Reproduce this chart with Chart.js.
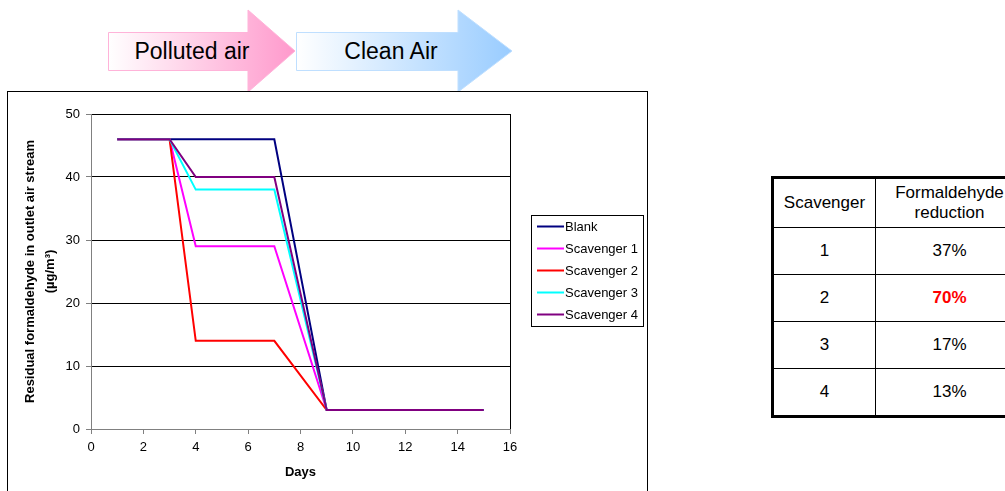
<!DOCTYPE html>
<html><head><meta charset="utf-8">
<script src="https://cdn.jsdelivr.net/npm/chart.js@4.4.1/dist/chart.umd.min.js"></script>
<style>
html,body{margin:0;padding:0;background:#fff;width:1005px;height:491px;overflow:hidden;font-family:"Liberation Sans",Arial,sans-serif;}
#arrows{position:absolute;left:0;top:0;z-index:0}
#box{position:absolute;left:7px;top:91px;width:639px;height:420px;border:1px solid #000;background:#fff;z-index:1}
#c{position:absolute;left:0;top:0}
#tbl{position:absolute;left:771px;top:176px;border-collapse:collapse;border:3px solid #000;font-size:17px;color:#000;z-index:2;table-layout:fixed;width:252px}
#tbl td{border:1px solid #000;text-align:center;padding:0;height:46px}
#tbl tr:first-child td{height:48px;line-height:20px}
</style></head>
<body>
<svg id="arrows" width="560" height="100">
  <defs>
    <linearGradient id="gp" x1="108" y1="0" x2="295" y2="0" gradientUnits="userSpaceOnUse">
      <stop offset="0" stop-color="#ffffff"/><stop offset="1" stop-color="#ff99cc"/>
    </linearGradient>
    <linearGradient id="gb" x1="296" y1="0" x2="512" y2="0" gradientUnits="userSpaceOnUse">
      <stop offset="0" stop-color="#ffffff"/><stop offset="1" stop-color="#99ccff"/>
    </linearGradient>
  </defs>
  <polygon points="108.5,32.5 248,32.5 248,10 295,51 248,92 248,70.5 108.5,70.5" fill="url(#gp)" stroke="#ffb3d9" stroke-width="1"/>
  <polygon points="296.5,32.5 458,32.5 458,10 512,51 458,92 458,70.5 296.5,70.5" fill="url(#gb)" stroke="#bfdfff" stroke-width="1"/>
  <text x="192" y="59" font-family="Liberation Sans, Arial, sans-serif" font-size="23" text-anchor="middle" fill="#000">Polluted air</text>
  <text x="391" y="59" font-family="Liberation Sans, Arial, sans-serif" font-size="23" text-anchor="middle" fill="#000">Clean Air</text>
</svg>
<div id="box"><canvas id="c" width="639" height="399" style="width:639px;height:399px"></canvas></div>
<table id="tbl"><colgroup><col style="width:103px"><col style="width:149px"></colgroup><tbody id="tb"></tbody></table>
<script>
// ---- data ----
const days = [1, 3, 4, 7, 9, 15];
const seriesNames = ['Blank', 'Scavenger 1', 'Scavenger 2', 'Scavenger 3', 'Scavenger 4'];
const blank      = [46, 46, 46, 46, 3, 3];
const scavenger1 = [46, 46, 29, 29, 3, 3];
const scavenger2 = [46, 46, 14, 14, 3, 3];
const scavenger3 = [46, 46, 38, 38, 3, 3];
const scavenger4 = [46, 46, 40, 40, 3, 3];
const seriesColors = ['#000080', '#FF00FF', '#FF0000', '#00FFFF', '#800080'];
const tableScavengers = ['1', '2', '3', '4'];
const tableReductions = ['37%', '70%', '17%', '13%'];
const highlightRow = 1;

// ---- table ----
const tb = document.getElementById('tb');
let html = '<tr><td>Scavenger</td><td>Formaldehyde<br>reduction</td></tr>';
tableScavengers.forEach((s, i) => {
  const st = i === highlightRow ? ' style="color:#ff0000;font-weight:bold"' : '';
  html += '<tr><td>' + s + '</td><td' + st + '>' + tableReductions[i] + '</td></tr>';
});
tb.innerHTML = html;

// ---- chart ----
const allSeries = [blank, scavenger1, scavenger2, scavenger3, scavenger4];
const FONT = '"Liberation Sans", Arial, sans-serif';

const extras = {
  id: 'extras',
  afterDraw(chart) {
    const { ctx, chartArea: a } = chart;
    ctx.save();
    ctx.strokeStyle = '#000';
    ctx.lineWidth = 1;
    const rx = Math.round(a.right) + 0.5;
    ctx.beginPath(); ctx.moveTo(rx, Math.round(a.top)); ctx.lineTo(rx, Math.round(a.bottom)); ctx.stroke();
    // legend
    ctx.strokeRect(523.5, 123.5, 112, 111);
    ctx.font = '13px ' + FONT;
    ctx.textBaseline = 'middle';
    ctx.textAlign = 'left';
    chart.data.datasets.forEach((ds, i) => {
      const y = 134.5 + i * 22;
      ctx.strokeStyle = ds.borderColor;
      ctx.lineWidth = 2;
      ctx.beginPath(); ctx.moveTo(529, y); ctx.lineTo(556, y); ctx.stroke();
      ctx.fillStyle = '#000';
      ctx.fillText(ds.label, 557, y + 0.5);
    });
    ctx.restore();
  }
};

new Chart(document.getElementById('c'), {
  type: 'line',
  data: {
    datasets: allSeries.map((vals, i) => ({
      label: seriesNames[i],
      data: days.map((d, j) => ({ x: d, y: vals[j] })),
      borderColor: seriesColors[i],
      backgroundColor: seriesColors[i],
      borderWidth: 2,
      pointRadius: 0,
      tension: 0,
      fill: false,
      order: allSeries.length - i
    }))
  },
  options: {
    responsive: false,
    animation: false,
    events: [],
    layout: { padding: { top: 22, right: 137, left: 0, bottom: 0 } },
    plugins: { legend: { display: false }, tooltip: { enabled: false } },
    scales: {
      x: {
        type: 'linear', min: 0, max: 16,
        afterFit(s) { s.height = 62; },
        ticks: { stepSize: 2, padding: 6, color: '#000', font: { size: 13, family: FONT } },
        grid: { drawOnChartArea: false, drawTicks: true, tickLength: 5, color: '#808080' },
        border: { color: '#808080', width: 1 },
        title: { display: true, text: 'Days', color: '#000', font: { size: 13, weight: 'bold', family: FONT }, padding: { top: 0, bottom: 11 } }
      },
      y: {
        min: 0, max: 50,
        afterFit(s) { s.width = 83; },
        ticks: { stepSize: 10, padding: 6, color: '#000', font: { size: 13, family: FONT } },
        grid: {
          drawTicks: true, tickLength: 5,
          color: (c) => (c.tick && c.tick.value === 0 ? '#808080' : '#000'),
          tickColor: '#808080'
        },
        border: { color: '#808080', width: 1 },
        title: {
          display: true,
          text: ['Residual formaldehyde in outlet air stream', '(\u00b5g/m\u00b3)'],
          color: '#000',
          font: { size: 13, weight: 'bold', family: FONT, lineHeight: 1.5 },
          padding: { top: 13, bottom: 0 }
        }
      }
    }
  },
  plugins: [extras]
});
</script>
</body></html>
